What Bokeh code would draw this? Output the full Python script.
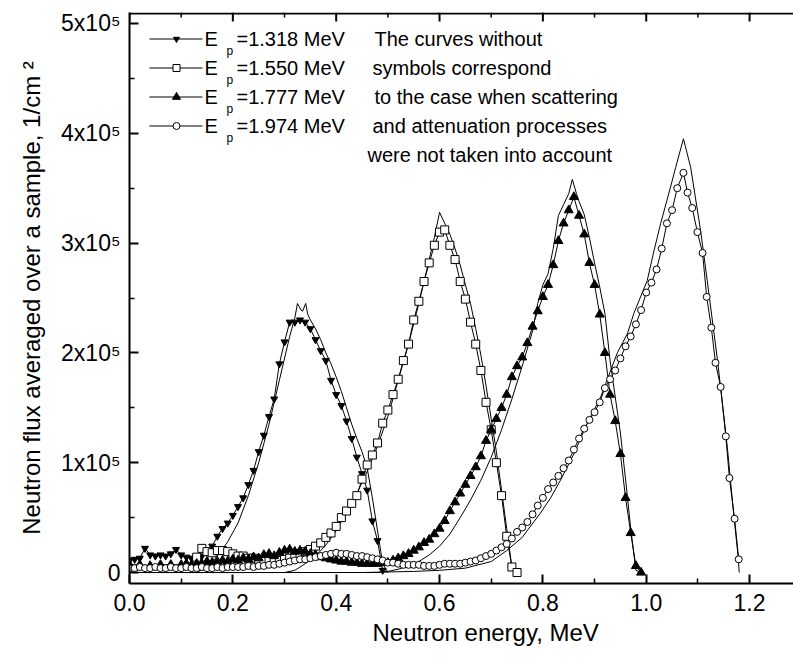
from bokeh.plotting import figure
from bokeh.models import Range1d, LinearAxis, FixedTicker, Label, NumeralTickFormatter, Title
from bokeh.embed import file_html
from bokeh.resources import INLINE

FONT = "Liberation Sans"

# ---------------- data ----------------
# Ep = 1.318 MeV (down triangles)
s1_x = [0.00,0.01,0.02,0.03,0.04,0.05,0.06,0.07,0.08,0.09,0.10,0.11,0.12,0.13,0.14,0.15,0.16,0.17,0.18,0.19,
        0.20,0.21,0.22,0.23,0.24,0.25,0.26,0.27,0.28,0.29,0.30,0.31,0.32,0.33,0.34,0.35,0.36,0.37,0.38,0.39,
        0.40,0.41,0.42,0.43,0.44,0.45,0.46,0.47,0.48,0.49]
s1_y = [11000,12000,13000,22000,16000,15000,16000,15000,17000,21000,16000,14000,13000,12000,15000,20000,24000,33000,40000,45000,
        52000,60000,68000,80000,93000,110000,125000,142000,158000,190000,210000,228000,228000,230000,228000,222000,212000,202000,193000,175000,
        162000,152000,138000,122000,105000,90000,75000,47000,29000,2000]
c1_x = [0.00,0.13,0.15,0.17,0.19,0.21,0.23,0.25,0.27,0.29,0.31,0.32,0.325,0.332,0.335,0.341,0.345,0.35,0.36,0.37,
        0.38,0.39,0.40,0.41,0.42,0.43,0.44,0.45,0.46,0.47,0.48,0.49,0.50]
c1_y = [0,0,5000,15000,28000,45000,70000,100000,135000,175000,215000,232000,245000,239000,238000,245000,235000,230000,222000,212000,
        200000,190000,178000,165000,150000,135000,122000,110000,95000,68000,38000,8000,0]

# Ep = 1.550 MeV (open squares)
s2_x = [0.13,0.14,0.15,0.16,0.17,0.18,0.19,0.20,0.21,0.22,0.23,0.24,0.25,0.26,0.27,0.28,0.29,0.30,0.31,0.32,
        0.33,0.34,0.35,0.36,0.37,0.38,0.39,0.40,0.41,0.42,0.43,0.44,0.45,0.46,0.47,0.48,0.49,0.50,0.51,0.52,
        0.53,0.54,0.55,0.56,0.57,0.58,0.59,0.60,0.61,0.62,0.63,0.64,0.65,0.66,0.67,0.68,0.69,0.70,0.71,0.72,
        0.73,0.74,0.75]
s2_y = [14000,22000,19000,18000,20000,20000,19000,17000,15000,15000,13000,13000,12000,11000,10000,10000,11000,12000,13000,15000,
        17000,19000,21000,24000,27000,32000,36000,42000,50000,56000,63000,70000,85000,98000,107000,118000,136000,148000,162000,176000,
        193000,208000,230000,247000,265000,282000,298000,310000,312000,298000,285000,265000,249000,228000,208000,184000,155000,130000,100000,70000,
        33000,5000,0]
c2_x = [0.00,0.30,0.32,0.34,0.36,0.38,0.40,0.42,0.44,0.46,0.48,0.50,0.52,0.54,0.56,0.58,0.59,0.60,0.61,0.62,
        0.63,0.64,0.65,0.66,0.67,0.68,0.69,0.70,0.71,0.72,0.73,0.74,0.745]
c2_y = [0,0,2000,8000,15000,25000,38000,55000,72000,92000,115000,142000,175000,208000,245000,285000,305000,328000,318000,308000,
        295000,280000,262000,245000,222000,198000,170000,140000,110000,75000,40000,5000,0]

# Ep = 1.777 MeV (filled triangles)
s3_x = [0.00,0.02,0.04,0.06,0.08,0.10,0.11,0.12,0.13,0.14,0.15,0.16,0.17,0.18,0.19,0.20,0.21,0.22,0.23,0.24,
        0.25,0.26,0.27,0.28,0.29,0.30,0.31,0.32,0.33,0.34,0.35,0.36,0.37,0.38,0.39,0.40,0.41,0.42,0.43,0.44,
        0.45,0.46,0.47,0.48,0.49,0.50,0.51,0.52,0.53,0.54,0.55,0.56,0.57,0.58,0.59,0.60,0.61,0.62,0.63,0.64,
        0.65,0.66,0.67,0.68,0.69,0.70,0.71,0.72,0.73,0.74,0.75,0.76,0.77,0.78,0.79,0.80,0.81,0.82,0.83,0.84,
        0.85,0.86,0.87,0.88,0.89,0.90,0.91,0.92,0.93,0.94,0.95,0.96,0.97,0.98,0.99]
s3_y = [7000,7000,6000,7000,7000,7000,8000,7000,8000,8000,10000,9000,10000,11000,10000,12000,11000,13000,12000,14000,
        13000,16000,17000,15000,18000,20000,21000,19000,20000,19000,17000,16000,14000,13000,12000,11000,10000,10000,9000,9000,
        8000,8000,8000,8000,9000,9000,11000,13000,15000,17000,20000,23000,27000,30000,35000,40000,47000,56000,64000,72000,
        80000,88000,96000,106000,120000,130000,140000,150000,162000,178000,188000,196000,209000,224000,238000,251000,262000,280000,302000,318000,
        330000,342000,325000,308000,282000,262000,235000,200000,162000,138000,108000,68000,36000,6000,0]
c3_x = [0.00,0.48,0.50,0.52,0.54,0.56,0.58,0.60,0.62,0.64,0.66,0.68,0.70,0.72,0.74,0.76,0.78,0.79,0.80,0.81,
        0.82,0.83,0.84,0.85,0.857,0.865,0.87,0.88,0.89,0.90,0.91,0.92,0.93,0.94,0.95,0.96,0.97,0.98,0.99]
c3_y = [0,0,1000,3000,6000,10000,16000,24000,35000,50000,66000,84000,105000,130000,158000,188000,220000,245000,262000,272000,
        295000,325000,335000,345000,358000,345000,338000,326000,305000,282000,260000,236000,193000,160000,127000,85000,40000,2000,0]

# Ep = 1.974 MeV (open circles)
s4_x = [0.00,0.01,0.02,0.03,0.04,0.05,0.06,0.07,0.08,0.09,0.10,0.11,0.12,0.13,0.14,0.15,0.16,0.17,0.18,0.19,
        0.20,0.21,0.22,0.23,0.24,0.25,0.26,0.27,0.28,0.29,0.30,0.31,0.32,0.33,0.34,0.35,0.36,0.37,0.38,0.39,
        0.40,0.41,0.42,0.43,0.44,0.45,0.46,0.47,0.48,0.49,0.50,0.51,0.52,0.53,0.54,0.55,0.56,0.57,0.58,0.59,
        0.60,0.61,0.62,0.63,0.64,0.65,0.66,0.67,0.68,0.69,0.70,0.71,0.72,0.73,0.74,0.75,0.76,0.77,0.78,0.79,
        0.80,0.81,0.82,0.83,0.84,0.85,0.86,0.87,0.88,0.89,0.90,0.91,0.92,0.93,0.94,0.95,0.96,0.97,0.98,0.99,
        1.00,1.01,1.02,1.03,1.04,1.05,1.06,1.072,1.08,1.089,1.099,1.109,1.117,1.126,1.134,1.144,1.154,1.161,1.171,1.179]
s4_y = [4000,4000,5000,4000,4000,5000,4000,4000,5000,4000,4000,5000,4000,4000,5000,4000,4000,5000,4000,5000,
        5000,5000,5000,6000,5000,6000,6000,7000,7000,8000,9000,10000,11000,12000,12000,13000,14000,15000,16000,17000,
        18000,17000,17000,16000,15000,15000,14000,13000,12000,11000,9000,9000,8000,7000,7000,7000,7000,6000,6000,6000,
        7000,8000,8000,8000,8000,9000,10000,11000,13000,15000,17000,20000,23000,26000,31000,37000,41000,46000,53000,61000,
        68000,76000,82000,88000,95000,102000,112000,122000,131000,139000,146000,155000,168000,176000,184000,195000,206000,215000,226000,239000,
        255000,264000,276000,295000,318000,330000,350000,364000,346000,332000,310000,291000,251000,223000,191000,169000,124000,86000,49000,12000]
c4_x = [0.00,0.45,0.50,0.55,0.60,0.65,0.70,0.73,0.76,0.795,0.815,0.834,0.86,0.886,0.912,0.944,0.964,0.976,1.002,1.015,
        1.028,1.047,1.057,1.072,1.086,1.105,1.118,1.138,1.157,1.169,1.178,1.18]
c4_y = [0,0,500,1000,2000,4000,10000,20000,32000,54000,68000,84000,108000,136000,160000,200000,218000,236000,266000,293000,
        318000,351000,369000,395000,369000,312000,266000,193000,114000,54000,14000,0]

legend_labels = ["1.318", "1.550", "1.777", "1.974"]
note_lines = ["The curves without", "symbols correspond", "to the case when scattering",
              "and attenuation processes", "were not taken into account"]

x_ticks = [0.0, 0.2, 0.4, 0.6, 0.8, 1.0, 1.2]
x_minor = [0.1, 0.3, 0.5, 0.7, 0.9, 1.1]
y_ticks = [0, 100000, 200000, 300000, 400000, 500000]
y_minor = [50000, 150000, 250000, 350000, 450000]
y_tick_labels = ["0", "1x10\u2075", "2x10\u2075", "3x10\u2075", "4x10\u2075", "5x10\u2075"]

# ---------------- figure ----------------
X_END = 1.285
Y_START, Y_END = -10000, 510000
W, H = 793, 657
BL, BR, BT, BB = 129, 0, 12, 74
FW, FH = W - BL - BR, H - BT - BB

p = figure(width=W, height=H, output_backend="svg", toolbar_location=None,
           x_range=Range1d(0, X_END), y_range=Range1d(Y_START, Y_END),
           min_border_left=BL, min_border_right=BR, min_border_top=BT, min_border_bottom=BB,
           x_axis_location=None, y_axis_location=None)
p.grid.visible = False
p.outline_line_color = None
p.background_fill_color = "white"
p.border_fill_color = "white"

def style_axis(ax):
    ax.axis_line_width = 2
    ax.axis_line_color = "black"
    ax.major_tick_in = 9
    ax.major_tick_out = 0
    ax.minor_tick_in = 5
    ax.minor_tick_out = 0
    ax.major_tick_line_width = 2
    ax.minor_tick_line_width = 1.5
    ax.major_label_text_font = FONT
    ax.major_label_text_font_size = "23px"
    ax.major_label_text_color = "black"
    ax.axis_label_text_font = FONT
    ax.axis_label_text_font_size = "24px"
    ax.axis_label_text_font_style = "normal"
    ax.axis_label_text_color = "black"

xax = LinearAxis(ticker=FixedTicker(ticks=x_ticks, minor_ticks=x_minor),
                 formatter=NumeralTickFormatter(format="0.0"))
style_axis(xax)
xax.major_label_standoff = 10
p.add_layout(xax, "below")

# x-axis title (placed as a below-title so it can sit right of the frame centre, as in the original)
xt = Title(text="Neutron energy, MeV", align="left", offset=243,
           text_font=FONT, text_font_size="24px", text_font_style="normal", text_color="black",
           standoff=6)
p.add_layout(xt, "below")

yax = LinearAxis(ticker=FixedTicker(ticks=y_ticks, minor_ticks=y_minor),
                 axis_label="Neutron flux averaged over a sample, 1/cm \u00b2")
yax.major_label_overrides = {t: l for t, l in zip(y_ticks, y_tick_labels)}
style_axis(yax)
yax.major_label_standoff = 9
yax.axis_label_standoff = 13
p.add_layout(yax, "left")

# ---------------- helpers: page pixel -> data (for layout of decorations) ----------------
def dx(px):
    return (px - BL) / FW * X_END

def dy(py):
    return Y_END - (py - BT) / FH * (Y_END - Y_START)

# top frame line with inward ticks
p.segment(x0=[0], y0=[dy(BT + 1)], x1=[X_END], y1=[dy(BT + 1)], line_color="black", line_width=2)
p.segment(x0=x_ticks, y0=[Y_END] * len(x_ticks), x1=x_ticks, y1=[dy(BT + 9)] * len(x_ticks),
          line_color="black", line_width=2)
p.segment(x0=x_minor, y0=[Y_END] * len(x_minor), x1=x_minor, y1=[dy(BT + 5)] * len(x_minor),
          line_color="black", line_width=1.5)

# ---------------- curves ----------------
for cx, cy in [(c1_x, c1_y), (c2_x, c2_y), (c3_x, c3_y), (c4_x, c4_y)]:
    p.line(cx, cy, line_color="black", line_width=1)

p.line(s1_x, s1_y, line_color="black", line_width=1)
p.scatter(s1_x, s1_y, marker="inverted_triangle", size=7, fill_color="black", line_color="black")
p.line(s2_x, s2_y, line_color="black", line_width=1)
p.scatter(s2_x, s2_y, marker="square", size=8, fill_color="white", line_color="black", line_width=1)
p.line(s3_x, s3_y, line_color="black", line_width=1)
p.scatter(s3_x, s3_y, marker="triangle", size=9, fill_color="black", line_color="black")
p.line(s4_x, s4_y, line_color="black", line_width=1)
p.scatter(s4_x, s4_y, marker="circle", size=7, fill_color="white", line_color="black", line_width=1)

# ---------------- legend ----------------
rows = [38.5, 67.5, 96.5, 125.5]
styles = [dict(marker="inverted_triangle", size=6, fill_color="black"),
          dict(marker="square", size=7, fill_color="white"),
          dict(marker="triangle", size=8, fill_color="black"),
          dict(marker="circle", size=7, fill_color="white")]
for ry, lab, st in zip(rows, legend_labels, styles):
    p.line([dx(149), dx(202)], [dy(ry), dy(ry)], line_color="black", line_width=1)
    p.scatter([dx(176)], [dy(ry)], line_color="black", **st)
    p.add_layout(Label(x=dx(204), y=dy(ry), text="E", text_baseline="middle",
                       text_font=FONT, text_font_size="20px", text_color="black"))
    p.add_layout(Label(x=dx(226), y=dy(ry + 12), text="p", text_baseline="middle",
                       text_font=FONT, text_font_size="12px", text_color="black"))
    p.add_layout(Label(x=dx(236), y=dy(ry), text="=" + lab + " MeV", text_baseline="middle",
                       text_font=FONT, text_font_size="20px", text_color="black"))

note_x = [374, 372, 374, 372, 367]
for i, (nx, t) in enumerate(zip(note_x, note_lines)):
    p.add_layout(Label(x=dx(nx), y=dy(38.5 + 29 * i), text=t, text_baseline="middle",
                       text_font=FONT, text_font_size="20px", text_color="black"))

open("out.html", "w").write(file_html(p, INLINE))
